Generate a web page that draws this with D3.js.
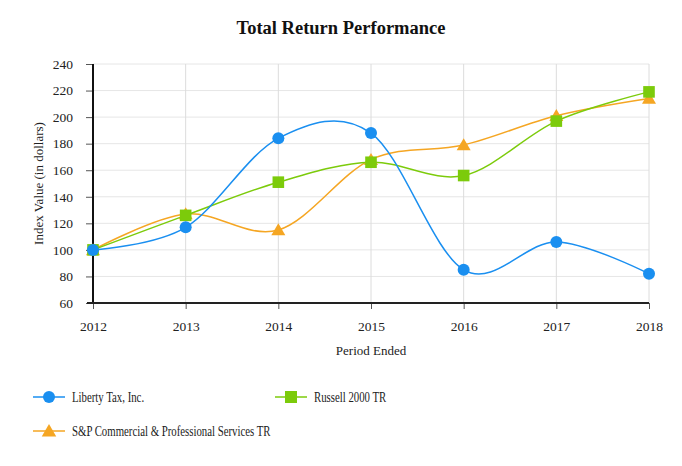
<!DOCTYPE html>
<html><head><meta charset="utf-8">
<script src="https://cdn.jsdelivr.net/npm/d3@7/dist/d3.min.js"></script>
<style>body{margin:0;background:#fff}svg{display:block}</style>
</head><body>
<svg id="c" width="682" height="466"></svg>
<script>
const years = [2012, 2013, 2014, 2015, 2016, 2017, 2018];
const liberty = [100, 117, 184, 188, 85, 106, 82];
const russell = [100, 126, 151, 166, 156, 197, 219];
const spcps = [100, 127, 115, 168, 179, 201, 214];
const yTicks = [60, 80, 100, 120, 140, 160, 180, 200, 220, 240];
const seriesNames = ["Liberty Tax, Inc.", "Russell 2000 TR", "S&P Commercial & Professional Services TR"];

const series = [
  {name: seriesNames[0], values: liberty, color: "#1a8ff0", marker: "circle"},
  {name: seriesNames[1], values: russell, color: "#7ccb0b", marker: "square"},
  {name: seriesNames[2], values: spcps, color: "#f5a623", marker: "triangle"}
];

const svg = d3.select("#c");
const font = "'Liberation Serif', 'Times New Roman', serif";
const m = {l: 93, r: 33, t: 64, b: 163};
const W = 682, H = 466;
const x = d3.scalePoint().domain(years).range([m.l, W - m.r]);
const y = d3.scaleLinear().domain([60, 240]).range([H - m.b, m.t]);

// grid
svg.append("g").selectAll("line").data(yTicks).join("line")
  .attr("x1", m.l).attr("x2", W - m.r)
  .attr("y1", d => y(d)).attr("y2", d => y(d))
  .attr("stroke", "#e6e6e6").attr("stroke-width", 1);
svg.append("g").selectAll("line").data(years).join("line")
  .attr("x1", d => x(d)).attr("x2", d => x(d))
  .attr("y1", m.t).attr("y2", H - m.b)
  .attr("stroke", "#dcdcdc").attr("stroke-width", 1);

// axes
const yAxis = svg.append("g").attr("transform", `translate(${m.l},0)`)
  .call(d3.axisLeft(y).tickValues(yTicks).tickSize(7).tickPadding(13));
yAxis.select(".domain").remove();
yAxis.selectAll(".tick line").attr("stroke", "#555");
yAxis.selectAll("text").attr("font-family", font).attr("font-size", 13.5).attr("fill", "#222");

const xAxis = svg.append("g").attr("transform", `translate(0,${H - m.b})`)
  .call(d3.axisBottom(x).tickSize(6).tickPadding(12).tickFormat(d3.format("d")));
xAxis.select(".domain").remove();
xAxis.selectAll(".tick line").attr("stroke", "#555");
xAxis.selectAll("text").attr("font-family", font).attr("font-size", 13.5).attr("fill", "#222");

svg.append("line").attr("x1", m.l).attr("x2", m.l).attr("y1", m.t).attr("y2", H - m.b + 1)
  .attr("stroke", "#111").attr("stroke-width", 2);
svg.append("line").attr("x1", m.l - 6).attr("x2", W - m.r).attr("y1", H - m.b).attr("y2", H - m.b)
  .attr("stroke", "#222").attr("stroke-width", 2);

// lines
const line = d3.line().x((d, i) => x(years[i])).y(d => y(d)).curve(d3.curveCardinal.tension(0));
const order = [2, 1, 0];
order.forEach(k => {
  const s = series[k];
  svg.append("path").attr("d", line(s.values)).attr("fill", "none")
    .attr("stroke", s.color).attr("stroke-width", 1.5);
});

function drawMarker(g, type, cx, cy, color, r) {
  if (type === "circle") g.append("circle").attr("cx", cx).attr("cy", cy).attr("r", r).attr("fill", color);
  else if (type === "square") g.append("rect").attr("x", cx - r).attr("y", cy - r).attr("width", 2 * r).attr("height", 2 * r).attr("fill", color);
  else {
    const h = r * 1.15;
    g.append("path").attr("d", `M${cx},${cy - h}L${cx + h * 1.05},${cy + h * 0.8}L${cx - h * 1.05},${cy + h * 0.8}Z`).attr("fill", color);
  }
}
order.forEach(k => {
  const s = series[k];
  const g = svg.append("g");
  const r = s.marker === "circle" ? 6 : 5.8;
  s.values.forEach((v, i) => drawMarker(g, s.marker, x(years[i]), y(v), s.color, r));
});

// title
svg.append("text").attr("x", 341).attr("y", 34).attr("text-anchor", "middle")
  .attr("font-family", font).attr("font-weight", "bold").attr("font-size", 18.5).attr("fill", "#111")
  .text("Total Return Performance");
svg.append("text").attr("transform", `translate(43,${(m.t + H - m.b) / 2}) rotate(-90)`)
  .attr("text-anchor", "middle").attr("font-family", font).attr("font-size", 13).attr("fill", "#222")
  .text("Index Value (in dollars)");
svg.append("text").attr("x", (m.l + W - m.r) / 2).attr("y", 355).attr("text-anchor", "middle")
  .attr("font-family", font).attr("font-size", 13).attr("fill", "#222").text("Period Ended");

// legend
const legendPos = [[33, 397], [275, 397], [33, 431]];
series.forEach((s, i) => {
  const [lx, ly] = legendPos[i];
  const g = svg.append("g");
  g.append("line").attr("x1", lx).attr("x2", lx + 32).attr("y1", ly).attr("y2", ly)
    .attr("stroke", s.color).attr("stroke-width", 1.5);
  drawMarker(g, s.marker, lx + 16, ly, s.color, 6);
  g.append("text").attr("transform", `translate(${lx + 39},${ly + 5}) scale(0.72,1)`)
    .attr("font-family", font).attr("font-size", 15).attr("fill", "#222").text(s.name);
});
</script>
</body></html>
